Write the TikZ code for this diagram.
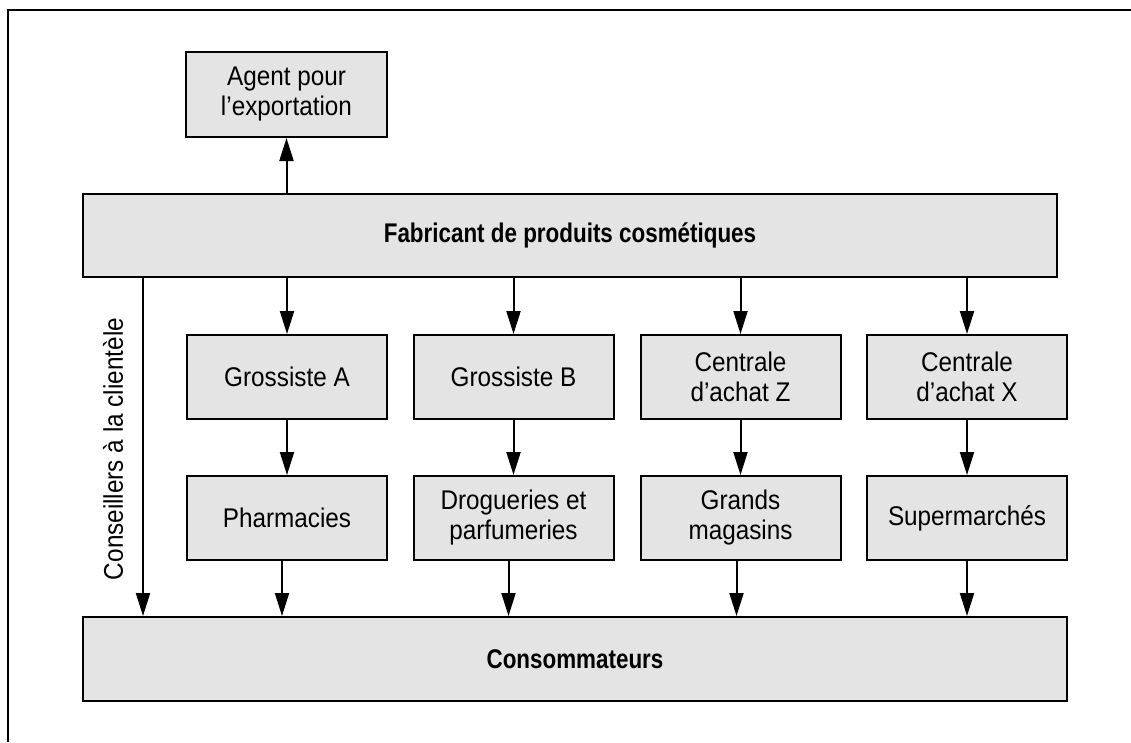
\documentclass[tikz,border=0pt]{standalone}
\usepackage{fontspec}
\setmainfont{Liberation Sans}[FakeStretch=0.9, BoldFeatures={FakeStretch=0.83}]
\usetikzlibrary{arrows.meta}
\definecolor{boxfill}{HTML}{E4E4E4}
\begin{document}
\begin{tikzpicture}[x=1pt,y=-1pt,
  box/.style={draw=black, line width=2pt, fill=boxfill, align=center,
    inner sep=0pt, font=\fontsize{27}{30}\selectfont},
  unit/.style={box, minimum width=200pt, minimum height=84pt},
  wide/.style={box, font=\fontsize{27}{30}\selectfont\bfseries},
  flow/.style={line width=2pt, -{Triangle[length=23pt,width=14pt]}}]
\useasboundingbox (0,0) rectangle (1131,742);
% outer frame (top and left sides)
\draw[line width=2.3pt] (8,742) -- (8,10) -- (1131,10);

% boxes
\node[unit, minimum width=201pt, minimum height=85pt] (agent) at (286.5,94.5) {Agent pour\\l’exportation};
\node[wide, minimum width=974pt, minimum height=83pt] (fab) at (570,235.5) {Fabricant de produits cosmétiques};

\node[unit] (ga) at (287,377) {Grossiste A};
\node[unit] (gb) at (513.5,377) {Grossiste B};
\node[unit] (cz) at (740.5,377) {Centrale\\d’achat Z};
\node[unit] (cx) at (967,377) {Centrale\\d’achat X};

\node[unit] (ph) at (287,518) {Pharmacies};
\node[unit] (dr) at (513.5,518) {Drogueries et\\parfumeries};
\node[unit] (gm) at (740.5,518) {Grands\\magasins};
\node[unit] (sm) at (967,518) {Supermarchés};

\node[wide, minimum width=984pt, minimum height=84pt] (cons) at (575,659) {Consommateurs};

% manufacturer to export agent
\draw[flow] (fab.north -| agent.south) -- (agent.south);

% manufacturer to intermediaries to outlets
\foreach \a/\b in {ga/ph, gb/dr, cz/gm, cx/sm}{
  \draw[flow] (fab.south -| \a.north) -- (\a.north);
  \draw[flow] (\a.south) -- (\b.north);
}

% outlets to consumers
\foreach \b/\s in {ph/-5, dr/-5, gm/-4, sm/0}{
  \draw[flow] ([xshift=\s pt]\b.south) -- ([xshift=\s pt]\b.south |- cons.north);
}

% direct channel through customer advisers
\coordinate (adv) at (143,0);
\draw[flow] (fab.south -| adv) -- (cons.north -| adv);
\node[rotate=90, font=\fontsize{27}{30}\selectfont, inner sep=0pt] (advlabel) at (113,449) {Conseillers à la clientèle};
\end{tikzpicture}
\end{document}
